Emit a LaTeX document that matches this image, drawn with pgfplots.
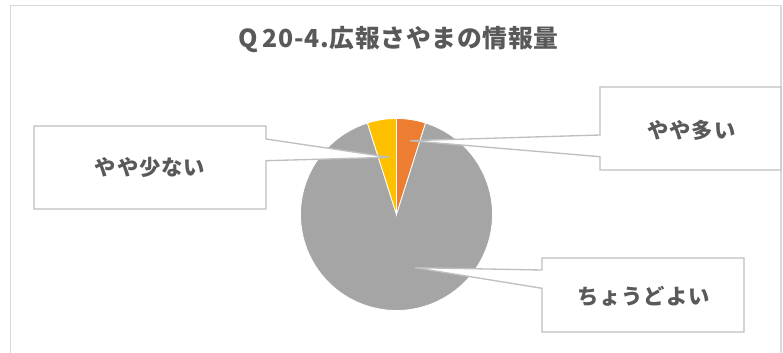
\documentclass[border=0pt]{standalone}
\usepackage{pgfplots}
\usepackage{pgfplotstable}
\pgfplotsset{compat=1.18}
\usepackage{fontspec}
\setmainfont{Noto Sans CJK JP}
\newfontfamily\titlefont{Noto Sans CJK JP}[LetterSpace=3]
\newfontfamily\labfont{Noto Sans CJK JP}[LetterSpace=4]
\definecolor{cOrange}{HTML}{ED7D31}
\definecolor{cGray}{HTML}{A5A5A5}
\definecolor{cYellow}{HTML}{FFC000}
\definecolor{cText}{HTML}{595959}
\definecolor{cBox}{HTML}{BFBFBF}
\definecolor{cFrame}{HTML}{D9D9D9}

% pie values (percent), clockwise from 12 o'clock
\pgfplotstableread{
label value
yayaooi 4.9
choudoyoi 90.2
yayasukunai 4.9
}\piedata
\pgfplotstablegetelem{0}{value}\of\piedata \let\va\pgfplotsretval
\pgfplotstablegetelem{1}{value}\of\piedata \let\vb\pgfplotsretval
\pgfplotstablegetelem{2}{value}\of\piedata \let\vc\pgfplotsretval
\pgfmathsetmacro\aO{90}
\pgfmathsetmacro\aA{90-3.6*\va}
\pgfmathsetmacro\aB{\aA-3.6*\vb}
\pgfmathsetmacro\aC{\aB-3.6*\vc}
\def\cx{396.5}
\def\cy{138.5}
\def\R{72pt}

\begin{document}
\begin{tikzpicture}
\begin{axis}[name=ax,
  width=587.25pt, height=264.75pt, scale only axis,
  xmin=0, xmax=783, ymin=0, ymax=353,
  hide axis, clip=false]
% frame
\draw[cFrame, line width=1.1pt] (axis cs:10.7,-10) -- (axis cs:10.7,347.3) -- (axis cs:781,347.3) -- (axis cs:781,-10);
% title
\node[text=cText, font=\titlefont\bfseries\fontsize{18.6}{21}\selectfont] at (axis cs:398.5,313) {Q\kern3.5pt 20-4.広報さやまの情報量};
% pie slices
\filldraw[fill=cOrange, draw=white, line width=0.6pt] (axis cs:\cx,\cy) -- ([shift={(\aO:\R)}]axis cs:\cx,\cy) arc[start angle=\aO, end angle=\aA, radius=\R] -- cycle;
\filldraw[fill=cGray, draw=white, line width=0.6pt] (axis cs:\cx,\cy) -- ([shift={(\aA:\R)}]axis cs:\cx,\cy) arc[start angle=\aA, end angle=\aB, radius=\R] -- cycle;
\filldraw[fill=cYellow, draw=white, line width=0.6pt] (axis cs:\cx,\cy) -- ([shift={(\aB:\R)}]axis cs:\cx,\cy) arc[start angle=\aB, end angle=\aC, radius=\R] -- cycle;
% callouts
\filldraw[fill=white, draw=cBox, line width=1pt, line join=miter]
  (axis cs:34,227) -- (axis cs:266,227) -- (axis cs:266,214) -- (axis cs:389,195.7) -- (axis cs:266,192.3) -- (axis cs:266,144) -- (axis cs:34,144) -- cycle;
\filldraw[fill=white, draw=cBox, line width=1pt, line join=miter]
  (axis cs:600,266) -- (axis cs:781,266) -- (axis cs:781,183) -- (axis cs:600,183) -- (axis cs:600,196.3) -- (axis cs:410,212.3) -- (axis cs:600,218) -- cycle;
\filldraw[fill=white, draw=cBox, line width=1pt, line join=miter]
  (axis cs:542,95) -- (axis cs:744,95) -- (axis cs:744,21) -- (axis cs:542,21) -- (axis cs:542,64.7) -- (axis cs:415,85.3) -- (axis cs:542,83) -- cycle;
% labels
\node[text=cText, font=\labfont\bfseries\fontsize{16}{19}\selectfont] at (axis cs:150,186) {やや少ない};
\node[text=cText, font=\labfont\bfseries\fontsize{16}{19}\selectfont] at (axis cs:691.5,223) {やや多い};
\node[text=cText, font=\labfont\bfseries\fontsize{16}{19}\selectfont] at (axis cs:643.5,56.3) {ちょうどよい};
\end{axis}
\pgfresetboundingbox
\path (ax.south west) rectangle (ax.north east);
\end{tikzpicture}
\end{document}
